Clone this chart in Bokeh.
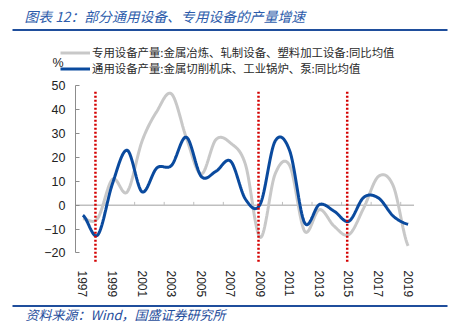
import numpy as np
from bokeh.plotting import figure
from bokeh.models import FixedTicker, Legend, LegendItem, Range1d
from bokeh.layouts import column
from bokeh.core.properties import value
from bokeh.embed import file_html
from bokeh.resources import INLINE

years = list(range(1997, 2020))
special = [-5.7, -5.5, 10.9, 5.6, 26.8, 39.3, 46.6, 28.2, 13.0, 27.5, 26.0, 17.0,
           -13.5, 13.0, 16.5, -10.9, -1.8, -8.8, -12.3, -1.1, 12.1, 8.0, -17.0]
general = [-4.2, -12.5, 9.0, 23.0, 5.6, 15.6, 16.7, 28.5, 12.1, 14.2, 18.4, 2.5,
           0.5, 26.8, 22.6, -7.4, 0.3, -2.5, -6.7, 3.3, 3.0, -4.6, -8.0]
event_years = [1997.85, 2008.88, 2014.88]
tick_years = list(range(1997, 2020, 2))
y_ticks = list(range(-20, 60, 10))

name_special = "专用设备产量:金属冶炼、轧制设备、塑料加工设备:同比均值"
name_general = "通用设备产量:金属切削机床、工业锅炉、泵:同比均值"
title_text = "图表 12：部分通用设备、专用设备的产量增速"
source_text = "资料来源：Wind，国盛证券研究所"
unit_text = "%"

GRAY = "#c8c8c8"
BLUE = "#0a4a9e"
RULE = "#1f4e9c"
CJK = "Noto Sans CJK SC"

def smooth(xs, ys, n=20):
    xs = np.asarray(xs, float); ys = np.asarray(ys, float)
    px = np.concatenate([[2*xs[0]-xs[1]], xs, [2*xs[-1]-xs[-2]]])
    py = np.concatenate([[ys[0]], ys, [ys[-1]]])
    ox, oy = [], []
    for i in range(1, len(px)-2):
        p0 = np.array([px[i-1], py[i-1]]); p1 = np.array([px[i], py[i]])
        p2 = np.array([px[i+1], py[i+1]]); p3 = np.array([px[i+2], py[i+2]])
        c1 = p1 + (p2 - p0) / 6.0
        c2 = p2 - (p3 - p1) / 6.0
        t = np.linspace(0, 1, n, endpoint=False)[:, None]
        b = (1-t)**3*p1 + 3*(1-t)**2*t*c1 + 3*(1-t)*t**2*c2 + t**3*p2
        ox.extend(b[:, 0]); oy.extend(b[:, 1])
    ox.append(xs[-1]); oy.append(ys[-1])
    return ox, oy

W = 454

def plain(h):
    f = figure(width=W, height=h, output_backend="svg", toolbar_location=None,
               x_range=Range1d(0, W), y_range=Range1d(h, 0),
               x_axis_location=None, y_axis_location=None, frame_align=False,
               min_border_left=0, min_border_right=0, min_border_top=0, min_border_bottom=0)
    f.outline_line_color = None
    f.xgrid.visible = False
    f.ygrid.visible = False
    return f

# ---------- title strip ----------
TH = 28
top = plain(TH)
top.text(x=[24], y=[15], text=[title_text], text_font=value(CJK), text_font_size="13.8px",
         text_font_style="italic", text_color="#2d5cab", text_baseline="middle", text_align="left")

# ---------- rule + legend strip ----------
LH = 52
head = plain(LH)
head.quad(left=[12], right=[447], top=[0.4], bottom=[2.4], fill_color=RULE, line_color=None)
head.text(x=[52], y=[34], text=[unit_text], text_font=value("Liberation Sans"), text_font_size="12.5px",
          text_color="#222222", text_baseline="middle", text_align="left")
lg1 = head.line([-40, -20], [-40, -40], line_color=GRAY, line_width=3)
lg2 = head.line([-40, -20], [-40, -40], line_color=BLUE, line_width=3)
legend = Legend(items=[LegendItem(label=name_special, renderers=[lg1]),
                       LegendItem(label=name_general, renderers=[lg2])],
                location=(60, LH - 48), orientation="vertical",
                glyph_width=30, glyph_height=13, label_height=13, spacing=0,
                padding=0, margin=0, label_standoff=2,
                border_line_color=None, background_fill_alpha=0,
                label_text_font=CJK, label_text_font_size="11.4px",
                label_text_color="#2a2a2a")
head.add_layout(legend, "center")

# ---------- main chart ----------
MH = 223
p = figure(width=W, height=MH, output_backend="svg", toolbar_location=None,
           x_range=Range1d(1996.5, 2019.5), y_range=Range1d(-24, 51), frame_align=False,
           min_border_left=75, min_border_right=39, min_border_top=3, min_border_bottom=41)
p.outline_line_color = None
p.xgrid.visible = False
p.ygrid.visible = False

p.line([1996.5, 2019.4], [0, 0], line_color="#bfbfbf", line_width=1.5)
bx = [y + 1.5 for y in tick_years[:-1]]
p.segment(x0=bx, y0=[0]*len(bx), x1=bx, y1=[1.4]*len(bx), line_color="#bfbfbf", line_width=1)

sx, sy = smooth(years, special)
gx, gy = smooth(years, general)
p.line(sx, sy, line_color=GRAY, line_width=3)
p.line(gx, gy, line_color=BLUE, line_width=3)

for ev in event_years:
    p.line([ev, ev], [47.5, -24], line_color="#d40000", line_width=2.5, line_dash="2 2")

ya = p.yaxis[0]
ya.ticker = FixedTicker(ticks=y_ticks)
ya.bounds = (-20, 50)
ya.axis_line_color = "#8c8c8c"
ya.major_tick_line_color = "#8c8c8c"
ya.major_tick_in = 4
ya.major_tick_out = 0
ya.minor_tick_line_color = None
ya.major_label_standoff = 10
ya.major_label_text_font = "Liberation Sans"
ya.major_label_text_font_size = "12.5px"
ya.major_label_text_color = "#222222"

xa = p.xaxis[0]
xa.ticker = FixedTicker(ticks=tick_years)
xa.axis_line_color = None
xa.major_tick_line_color = None
xa.minor_tick_line_color = None
xa.major_label_orientation = "vertical"
xa.major_label_standoff = 2
xa.major_label_text_font = "Liberation Sans"
xa.major_label_text_font_size = "12px"
xa.major_label_text_color = "#222222"

# ---------- footer ----------
FH = 336 - TH - LH - MH
foot = plain(FH)
foot.quad(left=[12], right=[447], top=[1.6], bottom=[3.6], fill_color=RULE, line_color=None)
foot.text(x=[25], y=[10.5], text=[source_text], text_font=value(CJK), text_font_size="13px",
          text_font_style="italic", text_color=RULE, text_baseline="middle", text_align="left")

layout = column(top, head, p, foot, spacing=0)
open("out.html", "w").write(file_html(layout, INLINE))
